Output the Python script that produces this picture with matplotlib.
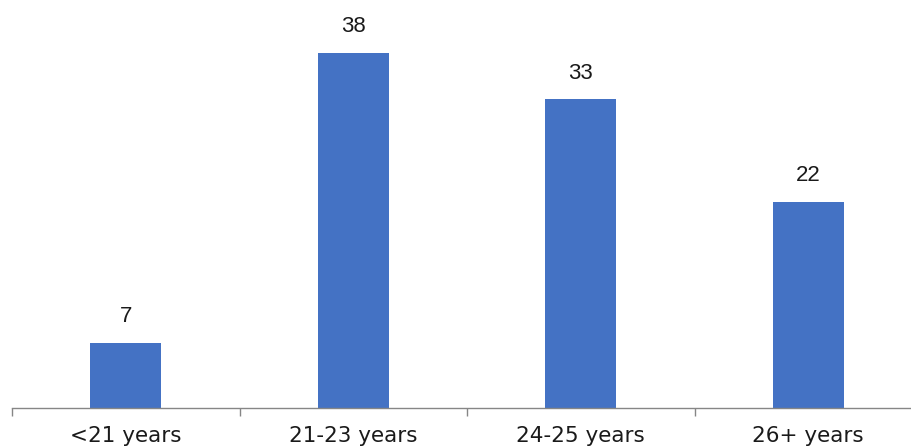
import matplotlib.pyplot as plt

categories = ["<21 years", "21-23 years", "24-25 years", "26+ years"]
values = [7, 38, 33, 22]

fig = plt.figure(figsize=(9.11, 4.48), dpi=100)
ax = fig.add_axes([12 / 911, 40 / 448, 910 / 911, 374 / 448])

x = range(len(categories))
bars = ax.bar(x, values, width=0.31, color="#4472C4", zorder=2)

for xi, v in zip(x, values):
    ax.text(xi, v + 1.7, str(v), ha="center", va="bottom",
            fontsize=16, family="Liberation Sans", color="#1a1a1a")

ax.set_xlim(-0.5, 3.5)
ax.set_ylim(0, 40)
ax.set_yticks([])
ax.set_xticks([-0.5, 0.5, 1.5, 2.5, 3.5])
ax.set_xticklabels([])
ax.set_xticks(list(x), minor=True)
ax.set_xticklabels(categories, minor=True, fontsize=15.5, color="#1a1a1a")
ax.tick_params(axis="x", which="major", length=6, width=1, color="#868686")
ax.tick_params(axis="x", which="minor", length=0, pad=13)

for s in ["top", "right", "left"]:
    ax.spines[s].set_visible(False)
ax.spines["bottom"].set_color("#868686")
ax.spines["bottom"].set_linewidth(1)

fig.savefig("out.png", dpi=100)
